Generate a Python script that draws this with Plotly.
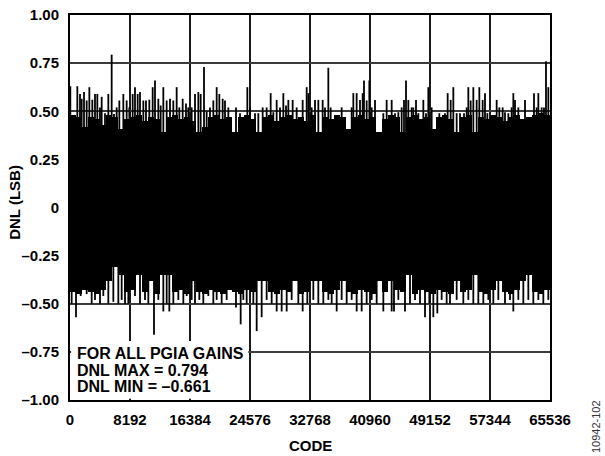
import plotly.graph_objects as go

# ---------------- data ----------------
N_CODES = 65536
BIN = 819.2  # width of one core bin (codes)

# solid core of the DNL band, per 819-code bin (LSB)
core_hi = [
    0.48, 0.47, 0.42, 0.47, 0.46, 0.43, 0.48, 0.47, 0.41, 0.46,
    0.47, 0.48, 0.45, 0.47, 0.46, 0.39, 0.47, 0.48, 0.46, 0.47,
    0.45, 0.39, 0.42, 0.47, 0.48, 0.46, 0.47, 0.39, 0.47, 0.48,
    0.46, 0.39, 0.47, 0.48, 0.45, 0.47, 0.48, 0.46, 0.47, 0.45,
    0.48, 0.39, 0.47, 0.46, 0.48, 0.47, 0.41, 0.47, 0.48, 0.46,
    0.47, 0.39, 0.46, 0.48, 0.47, 0.39, 0.47, 0.48, 0.46, 0.47,
    0.41, 0.47, 0.48, 0.46, 0.39, 0.47, 0.48, 0.39, 0.47, 0.46,
    0.48, 0.47, 0.45, 0.47, 0.48, 0.46, 0.47, 0.48, 0.49, 0.48]
core_lo = [
    -0.44, -0.45, -0.43, -0.44, -0.45, -0.43, -0.38, -0.31, -0.35, -0.44,
    -0.43, -0.35, -0.44, -0.38, -0.45, -0.35, -0.35, -0.44, -0.43, -0.45,
    -0.38, -0.44, -0.45, -0.43, -0.44, -0.45, -0.43, -0.44, -0.45, -0.43,
    -0.44, -0.38, -0.38, -0.44, -0.45, -0.43, -0.44, -0.38, -0.45, -0.44,
    -0.38, -0.38, -0.44, -0.45, -0.43, -0.38, -0.44, -0.45, -0.43, -0.44,
    -0.45, -0.38, -0.44, -0.38, -0.43, -0.44, -0.35, -0.45, -0.43, -0.44,
    -0.45, -0.43, -0.44, -0.45, -0.38, -0.44, -0.43, -0.35, -0.44, -0.45,
    -0.43, -0.38, -0.44, -0.45, -0.43, -0.38, -0.35, -0.44, -0.45, -0.43]

# positive excursions (code, DNL)
up_code = [
    45, 1001, 1365, 1593, 1911, 2276, 2640, 3049, 3413, 3732, 4096, 4324, 4779, 5234,
    5689, 6007, 6372, 6735, 7281, 7737, 8101, 8556, 8875, 9239, 9557, 10012, 10376,
    10831, 11287, 11605, 12060, 12379, 12743, 13198, 13653, 14108, 14563, 14927, 15383,
    15837, 16156, 16611, 17066, 17521, 17840, 18295, 18659, 19114, 19569, 20025, 20389,
    20844, 21162, 21617,
    22664, 23211, 24212, 24576, 25259, 25714, 26305, 26851, 27398, 27762, 28217, 28672,
    29127, 29491, 29810, 30401, 30947, 31766, 32313, 32540, 32995, 33450, 33905, 34497,
    34816, 35271, 35589, 37091, 38456, 38684, 39139, 39594, 39958, 40140, 40504, 40868,
    41187, 41642, 42780, 43235,
    43918, 44373, 44828, 45283, 45602, 45875, 46193, 46648, 46876, 47240, 47559, 48241,
    48605, 48924, 49379, 50426, 51199, 51563, 51973, 52337, 52792, 53247, 53794, 54158,
    54385, 54704, 55068, 55523, 55887, 56342, 56661, 56979, 58254, 58618, 59073, 59391,
    59846, 60301, 60529, 60757, 61212, 62122, 63351, 63715, 63942, 64397, 64716, 64989,
    65308]
up_val = [
    0.63, 0.63, 0.59, 0.565, 0.60, 0.556, 0.625, 0.56, 0.59, 0.59, 0.52, 0.575, 0.49, 0.59,
    0.794, 0.486, 0.52, 0.556, 0.59, 0.556, 0.52, 0.59, 0.625, 0.59, 0.60, 0.556, 0.556,
    0.56, 0.625, 0.66, 0.565, 0.53, 0.625, 0.556, 0.565, 0.556, 0.625, 0.52, 0.565,
    0.54, 0.52, 0.52, 0.59, 0.60, 0.59, 0.73, 0.50, 0.52, 0.556, 0.625, 0.59,
    0.565, 0.556, 0.52,
    0.52, 0.49, 0.625, 0.52, 0.49, 0.49, 0.52, 0.52, 0.594, 0.495, 0.559, 0.52,
    0.594, 0.53, 0.559, 0.559, 0.52, 0.559, 0.625, 0.594, 0.52, 0.559, 0.559, 0.559,
    0.52, 0.726, 0.52, 0.52, 0.52, 0.594, 0.594, 0.559, 0.594, 0.66, 0.556, 0.66,
    0.52, 0.559, 0.49, 0.559,
    0.559, 0.49, 0.495, 0.52, 0.559, 0.66, 0.559, 0.52, 0.52, 0.559, 0.49, 0.559,
    0.49, 0.625, 0.52, 0.49, 0.49, 0.594, 0.559, 0.625, 0.49, 0.49, 0.49, 0.52,
    0.625, 0.556, 0.625, 0.559, 0.625, 0.559, 0.594, 0.49, 0.559, 0.52, 0.52, 0.495,
    0.49, 0.52, 0.594, 0.559, 0.52, 0.559, 0.594, 0.52, 0.594, 0.52, 0.52, 0.76,
    0.625]

# negative excursions (code, DNL)
dn_code = [
    228, 820, 1457, 2276, 2958, 3413, 4096, 4551, 5234, 5916, 6600, 7054, 7509, 7965,
    8875, 9557, 10240, 10695, 11469, 12060, 12743, 13198, 13562, 14108, 14791, 15474,
    15929, 16611, 17066, 17658, 18204, 18887, 19569, 20025, 20707, 21390,
    22664, 23302, 23666, 24121, 25031, 25486, 26169, 26851, 27534, 28217, 28899, 29582,
    30265, 31175, 31766, 32404, 33223, 33905, 34588, 35271, 35726, 36409, 37091, 37774,
    38456, 39139, 39822, 40504, 41187, 41870, 42780,
    43918, 44236, 44828, 45738, 46421, 47104, 47786, 48469, 49060, 49607, 50153, 50744,
    51427, 51882, 52792, 53703, 54385, 55068, 55750, 56433, 57116, 57798, 58481, 59391,
    60074, 60529, 61212, 61894, 62577, 63260, 63942, 64625, 65308]
dn_val = [
    -0.50, -0.57, -0.46, -0.45, -0.50, -0.48, -0.50, -0.46, -0.50, -0.49, -0.50, -0.48, -0.50, -0.50,
    -0.46, -0.50, -0.48, -0.50, -0.661, -0.48, -0.54, -0.50, -0.54, -0.50, -0.48, -0.50,
    -0.46, -0.48, -0.50, -0.48, -0.50, -0.46, -0.50, -0.48, -0.50, -0.48,
    -0.52, -0.607, -0.48, -0.50, -0.50, -0.642, -0.57, -0.48, -0.50, -0.54, -0.54, -0.54,
    -0.48, -0.50, -0.54, -0.50, -0.48, -0.50, -0.50, -0.48, -0.50, -0.54, -0.48, -0.50,
    -0.48, -0.54, -0.54, -0.50, -0.48, -0.50, -0.54,
    -0.54, -0.54, -0.48, -0.54, -0.50, -0.48, -0.50, -0.57, -0.50, -0.57, -0.55, -0.48,
    -0.50, -0.50, -0.48, -0.50, -0.48, -0.50, -0.50, -0.50, -0.48, -0.50, -0.48, -0.50,
    -0.48, -0.54, -0.48, -0.50, -0.48, -0.50, -0.48, -0.50, -0.48]

x_ticks = [0, 8192, 16384, 24576, 32768, 40960, 49152, 57344, 65536]
y_ticks = [-1.0, -0.75, -0.5, -0.25, 0, 0.25, 0.5, 0.75, 1.0]
y_tick_text = ["–1.00", "–0.75", "–0.50", "–0.25", "0", "0.25", "0.50", "0.75", "1.00"]
note_lines = ["FOR ALL PGIA GAINS", "DNL MAX = 0.794", "DNL MIN = –0.661"]
x_title = "CODE"
y_title = "DNL (LSB)"
fig_id = "10942-102"

# ---------------- figure ----------------
FONT = "Liberation Sans, Arial, sans-serif"
FS = 15
centers = [BIN * (i + 0.5) for i in range(len(core_hi))]

fig = go.Figure()
fig.add_trace(go.Bar(
    x=centers, y=[h - l for h, l in zip(core_hi, core_lo)], base=core_lo,
    width=BIN, marker=dict(color="black", line=dict(width=0)), hoverinfo="skip"))

def spikes(codes, vals):
    xs, ys = [], []
    for c, v in zip(codes, vals):
        xs += [c, c, None]
        ys += [0, v, None]
    return xs, ys

for codes, vals in ((up_code, up_val), (dn_code, dn_val)):
    sx, sy = spikes(codes, vals)
    fig.add_trace(go.Scatter(x=sx, y=sy, mode="lines",
                             line=dict(color="black", width=1.8), hoverinfo="skip"))

fig.update_layout(
    width=605, height=456,
    margin=dict(l=70, r=55, t=15, b=56, autoexpand=False),
    paper_bgcolor="white", plot_bgcolor="white",
    showlegend=False, bargap=0,
    font=dict(family=FONT, color="black", size=FS),
)
fig.update_xaxes(
    range=[0, N_CODES], tickvals=x_ticks, ticktext=[str(v) for v in x_ticks],
    showgrid=True, gridcolor="#1a1a1a", gridwidth=1.5, zeroline=False,
    showline=True, linecolor="black", linewidth=2, mirror=True, ticks="",
    tickfont=dict(family=FONT, size=FS, weight="bold"), automargin=False,
    ticklabelstandoff=5,
)
fig.update_yaxes(
    range=[-1, 1], tickvals=y_ticks, ticktext=y_tick_text,
    showgrid=True, gridcolor="#3c3c3c", gridwidth=1.5, zeroline=False,
    showline=True, linecolor="black", linewidth=2, mirror=True, ticks="",
    tickfont=dict(family=FONT, size=FS, weight="bold"), automargin=False,
    ticklabelstandoff=6,
)

# white box behind the note
fig.add_shape(type="rect", xref="x", yref="y", x0=150, x1=24350, y0=-0.993, y1=-0.694,
              fillcolor="white", line=dict(width=0), layer="above")
for line_text, ypos in zip(note_lines, [0.1195, 0.0761, 0.0345]):
    fig.add_annotation(
        xref="paper", yref="paper", x=0, y=ypos, xanchor="left", yanchor="middle",
        xshift=5, align="left", showarrow=False, text=line_text,
        font=dict(family=FONT, size=16, color="black", weight="bold"))

fig.add_annotation(xref="paper", yref="paper", x=0.5, y=-0.1169,
                   xanchor="center", yanchor="middle", showarrow=False, text=x_title,
                   font=dict(family=FONT, size=FS, color="black", weight="bold"))
fig.add_annotation(xref="paper", yref="paper", x=-0.116, y=0.513, xanchor="center",
                   yanchor="middle", showarrow=False, text=y_title, textangle=-90,
                   font=dict(family=FONT, size=FS, color="black", weight="bold"))
fig.add_annotation(
    xref="paper", yref="paper", x=1.096, y=-0.07, xanchor="center", yanchor="middle",
    textangle=-90, showarrow=False, text=fig_id,
    font=dict(family=FONT, size=11, color="#333333"))

fig.write_html("out.html", config={"displayModeBar": False},
               post_script="document.body.style.margin='0';")
